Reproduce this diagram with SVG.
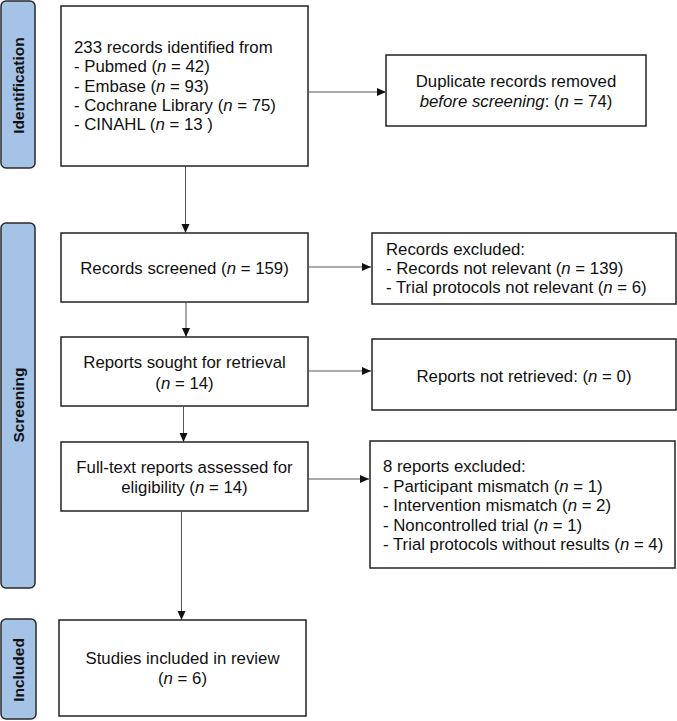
<svg xmlns="http://www.w3.org/2000/svg" width="677" height="721" viewBox="0 0 677 721">
<style>
text{font-family:"Liberation Sans",Arial,sans-serif;font-size:16.8px;fill:#111}
.it{font-style:italic}
.box{fill:#fff;stroke:#222;stroke-width:1.5}
.side{fill:#a4c3e7;stroke:#2a2a2a;stroke-width:1.5}
.lab{font-weight:bold;font-size:15.5px}
.con{stroke:#555;stroke-width:1;fill:none;marker-end:url(#ah)}
</style>
<defs>
<marker id="ah" markerUnits="userSpaceOnUse" markerWidth="10" markerHeight="10" refX="9" refY="4" orient="auto">
<path d="M0,0 L9,4 L0,8 Z" fill="#111"/>
</marker>
</defs>
<g id="side-identification">
<rect class="side" x="1" y="1" width="34" height="167" rx="5"/>
<text class="lab" transform="translate(24,85.5) rotate(-90)" text-anchor="middle">Identification</text>
</g>
<g id="side-screening">
<rect class="side" x="1" y="223" width="34" height="365" rx="5"/>
<text class="lab" transform="translate(24,405) rotate(-90)" text-anchor="middle">Screening</text>
</g>
<g id="side-included">
<rect class="side" x="1" y="619" width="35" height="100" rx="5"/>
<text class="lab" transform="translate(24,670) rotate(-90)" text-anchor="middle">Included</text>
</g>
<g id="identified">
<rect class="box" x="61" y="6" width="247" height="160"/>
<text x="74" y="53">233 records identified from</text>
<text x="74" y="72">- Pubmed (<tspan class="it">n</tspan> = 42)</text>
<text x="74" y="91.5">- Embase (<tspan class="it">n</tspan> = 93)</text>
<text x="74" y="111">- Cochrane Library (<tspan class="it">n</tspan> = 75)</text>
<text x="74" y="130">- CINAHL (<tspan class="it">n</tspan> = 13 )</text>
</g>
<g id="duplicates">
<rect class="box" x="386" y="55" width="260" height="71"/>
<text x="516" y="87" text-anchor="middle">Duplicate records removed</text>
<text x="516" y="106.5" text-anchor="middle"><tspan class="it">before screening</tspan>: (<tspan class="it">n</tspan> = 74)</text>
</g>
<g id="screened">
<rect class="box" x="61" y="233" width="247" height="69"/>
<text x="184.5" y="274" text-anchor="middle">Records screened (<tspan class="it">n</tspan> = 159)</text>
</g>
<g id="excluded1">
<rect class="box" x="372" y="233" width="304" height="71"/>
<text x="386" y="255">Records excluded:</text>
<text x="386" y="274">- Records not relevant (<tspan class="it">n</tspan> = 139)</text>
<text x="386" y="293">- Trial protocols not relevant (<tspan class="it">n</tspan> = 6)</text>
</g>
<g id="sought">
<rect class="box" x="61" y="337" width="247" height="69"/>
<text x="184.5" y="368" text-anchor="middle">Reports sought for retrieval</text>
<text x="184.5" y="389" text-anchor="middle">(<tspan class="it">n</tspan> = 14)</text>
</g>
<g id="notretrieved">
<rect class="box" x="372" y="339" width="304" height="71"/>
<text x="524" y="381.5" text-anchor="middle">Reports not retrieved: (<tspan class="it">n</tspan> = 0)</text>
</g>
<g id="fulltext">
<rect class="box" x="61" y="442" width="247" height="69"/>
<text x="184.5" y="473" text-anchor="middle">Full-text reports assessed for</text>
<text x="184.5" y="493" text-anchor="middle">eligibility (<tspan class="it">n</tspan> = 14)</text>
</g>
<g id="excluded2">
<rect class="box" x="370" y="441" width="305" height="127"/>
<text x="383" y="472">8 reports excluded:</text>
<text x="383" y="491.5">- Participant mismatch (<tspan class="it">n</tspan> = 1)</text>
<text x="383" y="511">- Intervention mismatch (<tspan class="it">n</tspan> = 2)</text>
<text x="383" y="530.5">- Noncontrolled trial (<tspan class="it">n</tspan> = 1)</text>
<text x="383" y="550">- Trial protocols without results (<tspan class="it">n</tspan> = 4)</text>
</g>
<g id="included">
<rect class="box" x="59" y="620" width="247" height="96"/>
<text x="182.5" y="664" text-anchor="middle">Studies included in review</text>
<text x="182.5" y="684" text-anchor="middle">(<tspan class="it">n</tspan> = 6)</text>
</g>
<g id="connectors">
<line class="con" x1="308" y1="92" x2="386" y2="92"/>
<line class="con" x1="185.5" y1="166" x2="185.5" y2="233"/>
<line class="con" x1="308" y1="267" x2="371" y2="267"/>
<line class="con" x1="186" y1="302" x2="186" y2="337"/>
<line class="con" x1="308" y1="371" x2="371" y2="371"/>
<line class="con" x1="183.5" y1="406" x2="183.5" y2="442"/>
<line class="con" x1="308" y1="479" x2="369" y2="479"/>
<line class="con" x1="181.5" y1="511" x2="181.5" y2="620"/>
</g>
</svg>
